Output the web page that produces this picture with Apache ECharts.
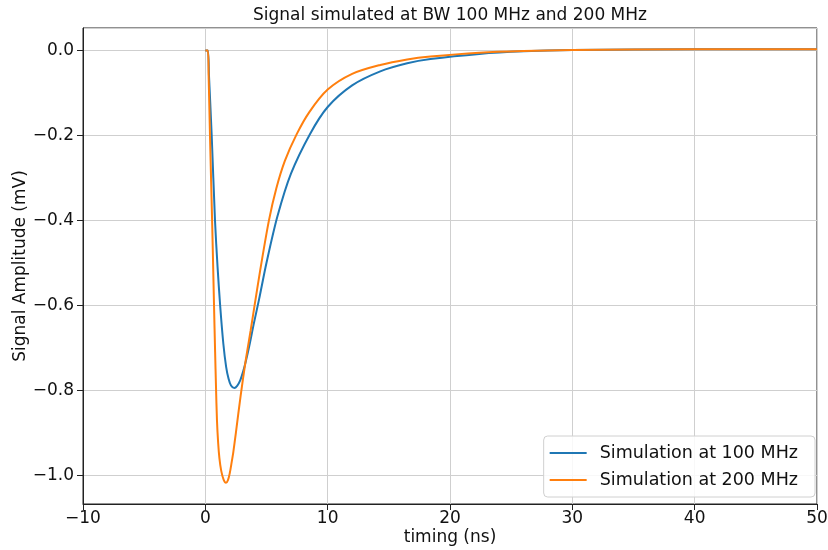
<!DOCTYPE html>
<html>
<head>
<meta charset="utf-8">
<script src="https://cdn.jsdelivr.net/npm/echarts@6/dist/echarts.min.js"></script>
<style>html,body{margin:0;padding:0;background:#fff}#c{width:828px;height:550px}</style>
</head>
<body>
<div id="c"></div>
<script>
const seriesNames = ['Simulation at 100 MHz', 'Simulation at 200 MHz'];
const xTicks = [-10, 0, 10, 20, 30, 40, 50];
const yTicks = [-1.0, -0.8, -0.6, -0.4, -0.2, 0.0];

const timeBlue = [0, 0.2, 0.3, 0.52, 0.79, 1.0, 1.21, 1.47, 1.7, 1.9, 2.1, 2.37, 2.6, 2.85, 3.1, 3.3, 3.6, 3.95, 4.4, 5.0, 5.9, 7.0, 8.55, 10, 12, 14.3, 16.5, 18.4, 22.4, 26, 30, 40, 50];
const valBlue  = [0, 0, -0.06, -0.2, -0.4, -0.51, -0.6, -0.69, -0.745, -0.773, -0.789, -0.795, -0.79, -0.777, -0.755, -0.733, -0.695, -0.645, -0.585, -0.5, -0.39, -0.29, -0.197, -0.133, -0.082, -0.049, -0.03, -0.02, -0.008, -0.002, 0.001, 0.003, 0.003];

const timeOrange = [0, 0.2, 0.27, 0.38, 0.57, 0.71, 0.8, 0.87, 0.95, 1.05, 1.15, 1.3, 1.5, 1.69, 1.85, 2.0, 2.15, 2.29, 2.5, 2.89, 3.3, 3.7, 4.0, 4.5, 5.2, 5.8, 6.5, 7.47, 8.5, 10, 12, 14.3, 16.5, 18.4, 22.4, 26, 30, 40, 50];
const valOrange  = [0, 0, -0.06, -0.2, -0.42, -0.6, -0.71, -0.79, -0.87, -0.925, -0.96, -0.99, -1.011, -1.018, -1.012, -0.995, -0.97, -0.945, -0.9, -0.812, -0.73, -0.66, -0.605, -0.515, -0.4, -0.325, -0.26, -0.197, -0.145, -0.092, -0.055, -0.034, -0.021, -0.014, -0.005, -0.001, 0.001, 0.003, 0.003];

const zip = (a, b) => a.map((t, i) => [t, b[i]]);
const fmt = (v, d) => { const s = Math.abs(v).toFixed(d); return (v < 0 && Math.abs(v) > 1e-9 ? '\u2212' : '') + s; };
const FONT = 'DejaVu Sans';
const chart = echarts.init(document.getElementById('c'), null, {renderer: 'canvas'});
chart.setOption({
  animation: false,
  backgroundColor: '#fff',
  textStyle: {fontFamily: FONT},
  title: {
    text: 'Signal simulated at BW 100 MHz and 200 MHz',
    left: 450, textAlign: 'center', top: 7, padding: 0,
    textStyle: {fontFamily: FONT, fontSize: 17, fontWeight: 'normal', color: '#111'}
  },
  grid: {left: 83, right: 11, top: 28, bottom: 46, show: true, borderColor: '#222', borderWidth: 1,
         containLabel: false, outerBoundsMode: 'none'},
  legend: {
    orient: 'vertical', right: 13, bottom: 53,
    data: seriesNames,
    icon: 'rect', itemWidth: 37, itemHeight: 2, itemGap: 9,
    padding: [8, 17, 8, 6],
    backgroundColor: 'rgba(255,255,255,0.85)', borderColor: '#d0d0d0', borderWidth: 1, borderRadius: 4,
    textStyle: {fontFamily: FONT, fontSize: 17.5, color: '#111', padding: [0, 0, 0, 8]}
  },
  xAxis: {
    type: 'value', min: xTicks[0], max: xTicks[xTicks.length - 1], interval: 10,
    name: 'timing (ns)', nameLocation: 'middle', nameGap: 25, nameMoveOverlap: false,
    nameTextStyle: {fontFamily: FONT, fontSize: 17, color: '#111'},
    axisLine: {show: true, onZero: false, lineStyle: {color: '#222', width: 1}},
    axisTick: {show: true, inside: false, length: 6, lineStyle: {color: '#222'}},
    axisLabel: {fontFamily: FONT, fontSize: 17, color: '#111', margin: 6, formatter: v => fmt(v, 0)},
    splitLine: {show: true, lineStyle: {color: '#cfcfcf', width: 1}}
  },
  yAxis: {
    type: 'value', min: -1.068, max: 0.053, splitNumber: 5,
    name: 'Signal Amplitude (mV)', nameLocation: 'middle', nameGap: 54, nameMoveOverlap: false,
    nameTextStyle: {fontFamily: FONT, fontSize: 17, color: '#111'},
    axisLine: {show: true, onZero: false, lineStyle: {color: '#222', width: 1}},
    axisTick: {show: true, inside: false, length: 6, lineStyle: {color: '#222'}},
    axisLabel: {fontFamily: FONT, fontSize: 17, color: '#111', margin: 9, showMinLabel: false, showMaxLabel: false,
      formatter: v => (yTicks.some(t => Math.abs(t - v) < 1e-6) ? fmt(v, 1) : '')},
    splitLine: {show: true, lineStyle: {color: '#cfcfcf', width: 1}}
  },
  series: [
    {name: seriesNames[0], type: 'line', data: zip(timeBlue, valBlue), showSymbol: false, smooth: 0.3,
     lineStyle: {color: '#1f77b4', width: 2}, itemStyle: {color: '#1f77b4'}, z: 3},
    {name: seriesNames[1], type: 'line', data: zip(timeOrange, valOrange), showSymbol: false, smooth: 0.3,
     lineStyle: {color: '#ff7f0e', width: 2}, itemStyle: {color: '#ff7f0e'}, z: 4}
  ]
});
</script>
</body>
</html>
